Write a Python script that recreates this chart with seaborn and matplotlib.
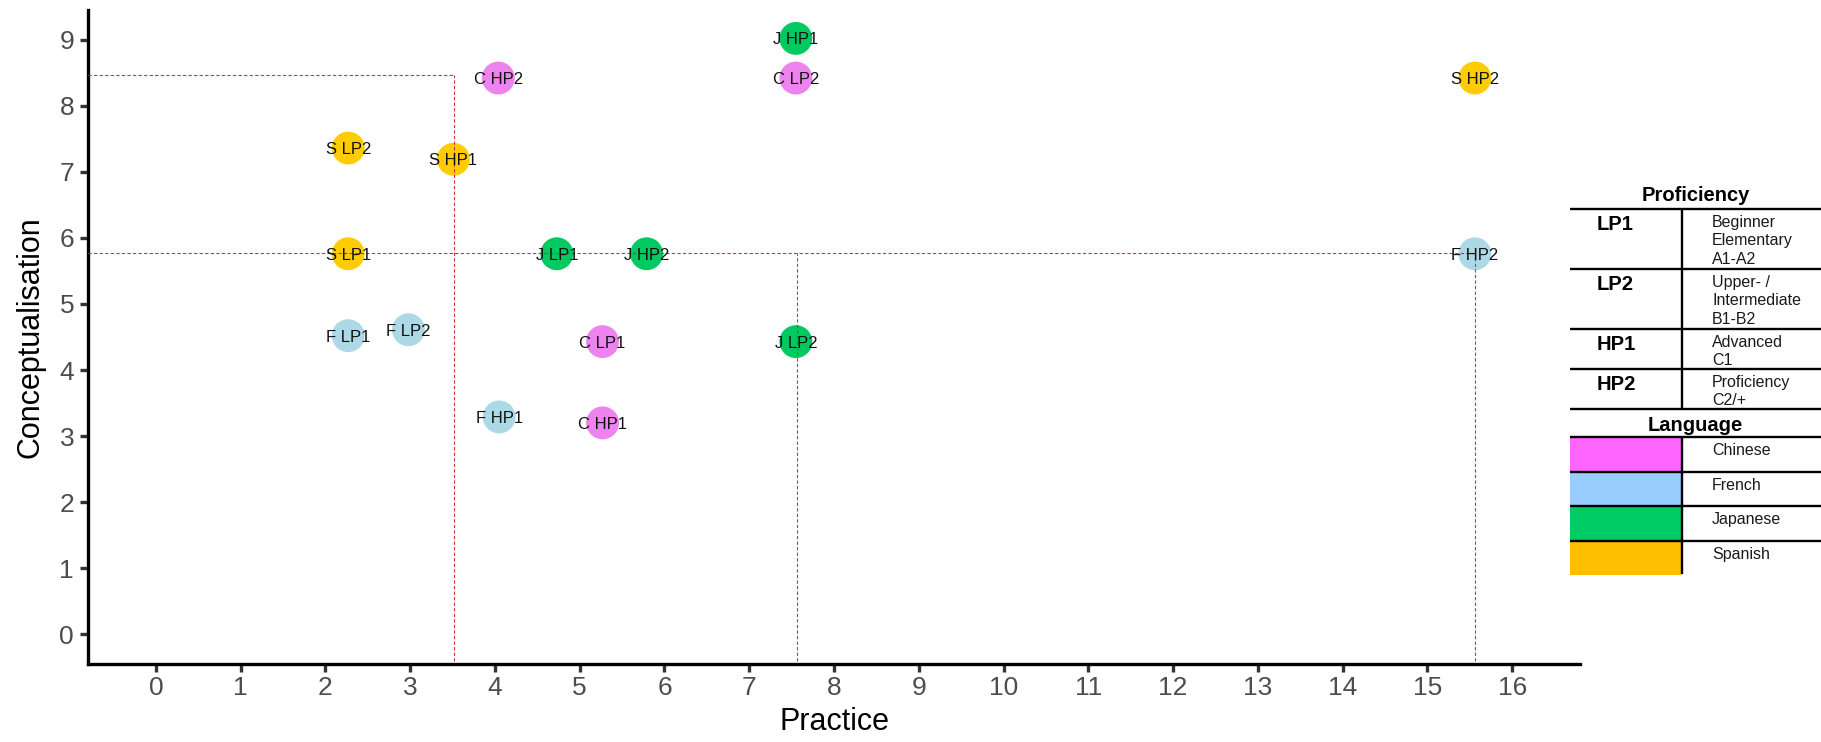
import numpy as np
import pandas as pd
import matplotlib
matplotlib.use("Agg")
import matplotlib.pyplot as plt
import seaborn as sns
from matplotlib.patches import Rectangle

# ---------------- data ----------------
labels = ["C LP1", "C LP2", "C HP1", "C HP2",
          "F LP1", "F LP2", "F HP1", "F HP2",
          "J LP1", "J LP2", "J HP1", "J HP2",
          "S LP1", "S LP2", "S HP1", "S HP2"]
language = ["Chinese", "Chinese", "Chinese", "Chinese",
            "French", "French", "French", "French",
            "Japanese", "Japanese", "Japanese", "Japanese",
            "Spanish", "Spanish", "Spanish", "Spanish"]
practice = [5.27, 7.55, 5.27, 4.04,
            2.27, 2.98, 4.05, 15.56,
            4.73, 7.55, 7.55, 5.79,
            2.27, 2.27, 3.51, 15.56]
conceptualisation = [4.43, 8.42, 3.20, 8.42,
                     4.52, 4.61, 3.29, 5.76,
                     5.76, 4.43, 9.02, 5.76,
                     5.76, 7.36, 7.19, 8.42]

# reference (dotted red) segments
ref_v_x = [3.52, 7.56, 15.56]
ref_v_top = [8.46, 5.77, 5.77]
ref_h_y = [8.46, 5.77]
ref_h_right = [3.52, 15.56]

x_ticks = list(range(0, 17))
y_ticks = list(range(0, 10))

# legend table content
prof_codes = ["LP1", "LP2", "HP1", "HP2"]
prof_desc = [["Beginner", "Elementary", "A1-A2"],
             ["Upper- /", "Intermediate", "B1-B2"],
             ["Advanced", "C1"],
             ["Proficiency", "C2/+"]]
lang_names = ["Chinese", "French", "Japanese", "Spanish"]
lang_fill = ["#FF66FF", "#99CCFF", "#00CC66", "#FFBF00"]
point_palette = {"Chinese": "#EE82EE", "French": "#ADD8E6",
                 "Japanese": "#00C962", "Spanish": "#FFCC00"}

df = pd.DataFrame({"label": labels, "Language": language,
                   "Practice": practice, "Conceptualisation": conceptualisation})

# ---------------- style ----------------
sns.set_style("white")
plt.rcParams["font.family"] = ["Liberation Sans", "DejaVu Sans"]

W, H = 1821, 742
fig = plt.figure(figsize=(W / 100, H / 100), dpi=100)
ax = fig.add_axes([88 / W, (H - 664) / H, (1580 - 88) / W, (664 - 10) / H])

xlim = (-0.8, 16.8)
ylim = (-0.45, 9.45)

sns.scatterplot(data=df, x="Practice", y="Conceptualisation", hue="Language",
                palette=point_palette, s=560, linewidth=0, legend=False,
                ax=ax, zorder=2)

ax.vlines(ref_v_x, ymin=ylim[0] + 0.05, ymax=ref_v_top, colors="#D93030",
          linestyles=(0, (3, 2)), linewidth=0.8, zorder=3)
ax.hlines(ref_h_y, xmin=xlim[0], xmax=ref_h_right, colors="#D93030",
          linestyles=(0, (3, 2)), linewidth=0.8, zorder=3)

for _, r in df.iterrows():
    ax.text(r["Practice"], r["Conceptualisation"], r["label"], ha="center",
            va="center_baseline", fontsize=12, color="#111111", zorder=4)

ax.set_xlim(*xlim)
ax.set_ylim(*ylim)
ax.set_xticks(x_ticks)
ax.set_yticks(y_ticks)
ax.set_xlabel("Practice", fontsize=22, color="black", labelpad=5)
ax.set_ylabel("Conceptualisation", fontsize=22, color="black", labelpad=10)
ax.tick_params(axis="both", which="major", labelsize=19, labelcolor="#4D4D4D",
               color="#333333", width=2.4, length=5.5, direction="out",
               bottom=True, left=True)
ax.tick_params(axis="x", pad=3)
ax.tick_params(axis="y", pad=4.5)
for side in ["top", "right"]:
    ax.spines[side].set_visible(False)
for side in ["left", "bottom"]:
    ax.spines[side].set_color("black")
    ax.spines[side].set_linewidth(2.4)
ax.grid(False)

# ---------------- legend table ----------------
tab = fig.add_axes([0, 0, 1, 1], facecolor="none")
tab.set_xlim(0, W)
tab.set_ylim(H, 0)
tab.axis("off")

tx0, tdiv, tx1 = 1570, 1682, W
lw = 1.7
line_h = 18.7

tab.text((tx0 + tx1) / 2, 201, "Proficiency", ha="center", va="baseline",
         fontsize=14.5, fontweight="bold", color="black")
y = 209
tab.plot([tx0, tx1], [y, y], color="black", lw=lw, solid_capstyle="butt")
prof_top = y
for code, desc in zip(prof_codes, prof_desc):
    h = 20 * len(desc)
    tab.text(1597, y + 21.5, code, ha="left", va="baseline", fontsize=14.5,
             fontweight="bold", color="black")
    for i, line in enumerate(desc):
        tab.text(1712, y + 17.7 + i * line_h, line, ha="left", va="baseline",
                 fontsize=11.5, color="#1a1a1a")
    y += h
    tab.plot([tx0, tx1], [y, y], color="black", lw=lw, solid_capstyle="butt")
tab.plot([tdiv, tdiv], [prof_top, y], color="black", lw=lw, solid_capstyle="butt")

tab.text((tx0 + tx1) / 2, 431, "Language", ha="center", va="baseline",
         fontsize=14.5, fontweight="bold", color="black")
y = 437
lang_top = y
row_h = 33.5
for i, (name, col) in enumerate(zip(lang_names, lang_fill)):
    tab.add_patch(Rectangle((tx0, y), tdiv - tx0, row_h + 1, facecolor=col,
                            edgecolor="none", zorder=1))
    tab.text(1712, y + 18, name, ha="left", va="baseline", fontsize=11.5,
             color="#1a1a1a")
    tab.plot([tx0, tx1], [y, y], color="black", lw=lw, solid_capstyle="butt", zorder=3)
    y += row_h + 1
tab.plot([tdiv, tdiv], [lang_top, y - 1], color="black", lw=lw,
         solid_capstyle="butt", zorder=3)

fig.savefig("out.png", dpi=100)
